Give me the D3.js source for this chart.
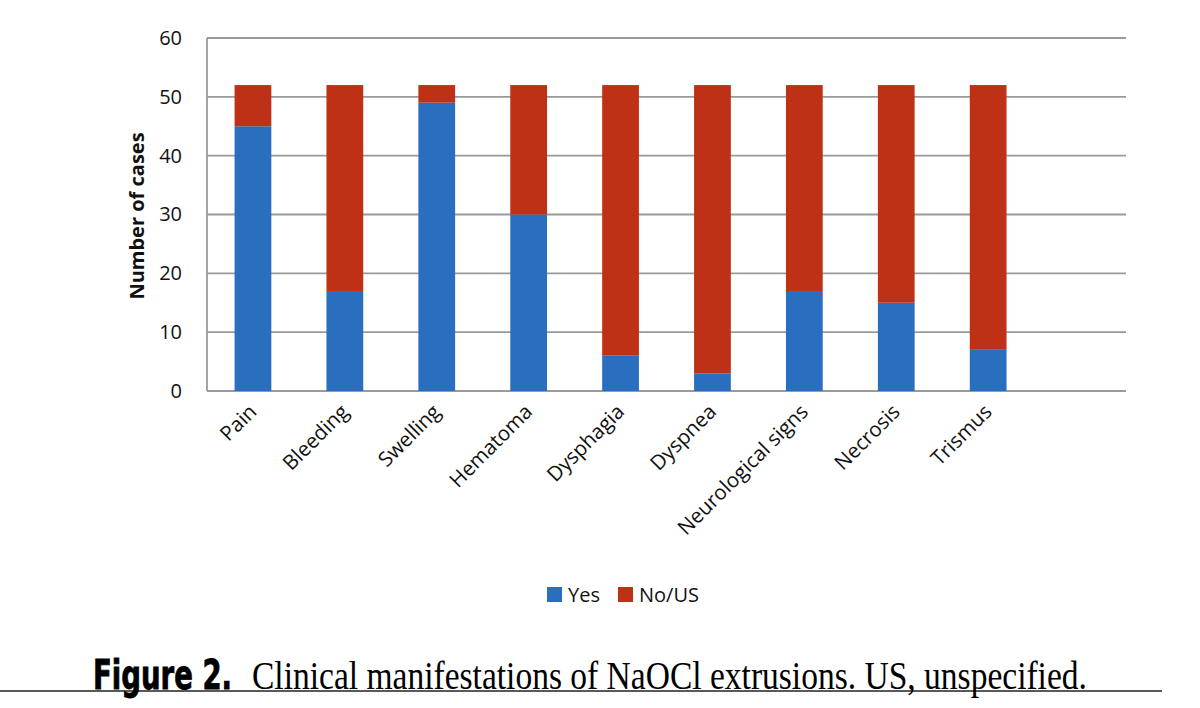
<!DOCTYPE html>
<html>
<head>
<meta charset="utf-8">
<script src="https://cdn.jsdelivr.net/npm/d3@7/dist/d3.min.js"></script>
<style>
  body { margin: 0; background: #fff; }
  svg { display: block; }
</style>
</head>
<body>
<svg id="chart" width="1200" height="708"></svg>
<script>
const categories = ["Pain", "Bleeding", "Swelling", "Hematoma", "Dysphagia", "Dyspnea", "Neurological signs", "Necrosis", "Trismus", ""];
const yesValues = [45, 17, 49, 30, 6, 3, 17, 15, 7];
const noValues = [7, 35, 3, 22, 46, 49, 35, 37, 45];
const seriesNames = ["Yes", "No/US"];
const colors = ["#2a6ebf", "#bf3117"];
const yTicks = [0, 10, 20, 30, 40, 50, 60];

const svg = d3.select("#chart");
const margin = { left: 207, right: 1126, top: 38, bottom: 391 };

const x = d3.scaleBand().domain(categories.map((c, i) => i)).range([margin.left, margin.right]).paddingInner(0.6).paddingOuter(0.3);
const y = d3.scaleLinear().domain([0, 60]).range([margin.bottom, margin.top]);

const labelFont = "Open Sans, Lato, sans-serif";

// gridlines
svg.append("g").selectAll("line").data(yTicks).join("line")
  .attr("x1", margin.left).attr("x2", margin.right)
  .attr("y1", d => y(d)).attr("y2", d => y(d))
  .attr("stroke", "#9a9a9a").attr("stroke-width", 1.8);
// left axis line
svg.append("line").attr("x1", margin.left).attr("x2", margin.left)
  .attr("y1", y(60)).attr("y2", y(0)).attr("stroke", "#9a9a9a").attr("stroke-width", 1.8);

// y tick labels
const yAxis = d3.axisLeft(y).tickValues(yTicks).tickSize(0).tickPadding(25);
const yg = svg.append("g").attr("transform", `translate(${margin.left},0)`).call(yAxis);
yg.select(".domain").remove();
yg.selectAll("text").attr("font-family", labelFont).attr("font-size", 20).attr("fill", "#111");

// stacked data
const table = yesValues.map((v, i) => ({ idx: i, Yes: v, "No/US": noValues[i] }));
const stack = d3.stack().keys(seriesNames)(table);
svg.append("g").selectAll("g").data(stack).join("g")
  .attr("fill", (d, i) => colors[i])
  .selectAll("rect").data(d => d).join("rect")
  .attr("x", d => x(d.data.idx))
  .attr("width", x.bandwidth())
  .attr("y", d => y(d[1]))
  .attr("height", d => y(d[0]) - y(d[1]));

// x labels
const xg = svg.append("g");
categories.forEach((c, i) => {
  if (!c) return;
  const cx = x(i) + x.bandwidth() / 2 + 5;
  xg.append("text")
    .attr("transform", `translate(${cx},${margin.bottom + 22}) rotate(-45)`)
    .attr("text-anchor", "end")
    .attr("font-family", labelFont).attr("font-size", 20.5).attr("fill", "#111")
    .text(c);
});

// y axis title
svg.append("text")
  .attr("transform", `translate(144,216) rotate(-90)`)
  .attr("text-anchor", "middle")
  .attr("font-family", labelFont).attr("font-size", 20).attr("font-weight", "bold").attr("fill", "#111")
  .text("Number of cases");

// legend
const legend = svg.append("g");
const legendX = [547, 618];
seriesNames.forEach((s, i) => {
  legend.append("rect").attr("x", legendX[i]).attr("y", 587).attr("width", 15).attr("height", 15).attr("fill", colors[i]);
  legend.append("text").attr("x", legendX[i] + 21).attr("y", 602)
    .attr("font-family", labelFont).attr("font-size", 20).attr("fill", "#111").text(s);
});

// caption
svg.append("line").attr("x1", 0).attr("x2", 1162).attr("y1", 691).attr("y2", 691)
  .attr("stroke", "#222").attr("stroke-width", 1.5);

function fitText(str, xPos, yPos, width, font, size, weight, extra) {
  const t = svg.append("text")
    .attr("font-family", font).attr("font-size", size).attr("font-weight", weight)
    .attr("fill", "#000").text(str);
  if (extra) extra(t);
  const w = t.node().getComputedTextLength();
  t.attr("transform", `translate(${xPos},${yPos}) scale(${width / w},1)`);
  return t;
}
fitText("Figure 2.", 93, 689, 139, "DejaVu Sans Condensed, DejaVu Sans, sans-serif", 40, "bold",
  t => t.attr("stroke", "#000").attr("stroke-width", 0.8));
fitText("Clinical manifestations of NaOCl extrusions. US, unspecified.", 252, 689, 835,
  "Liberation Serif, DejaVu Serif, serif", 39, "normal");
</script>
</body>
</html>
